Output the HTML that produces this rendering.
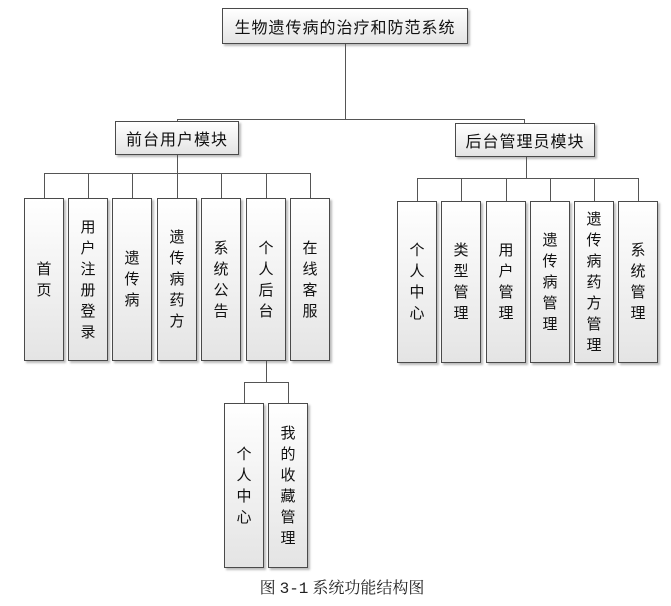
<!DOCTYPE html>
<html><head><meta charset="utf-8"><style>
body{margin:0;background:#fff;width:671px;height:606px;position:relative;overflow:hidden;font-family:"Liberation Sans","Noto Sans CJK SC",sans-serif;}
.b{position:absolute;box-sizing:border-box;border:1px solid #4a4a4a;background:linear-gradient(#ffffff,#e4e4e4);box-shadow:2px 2px 2px #bbb;color:#111;font-size:15px;display:flex;align-items:center;justify-content:center;text-align:center;}
.v{line-height:21px;width:40px;padding:0 12px;word-break:break-all;}
.l{position:absolute;background:#555;}
.h{height:1px}.w{width:1px}
</style></head><body>
<div class="b" style="left:222px;top:8px;width:246px;height:36px;font-size:16px;letter-spacing:1px">生物遗传病的治疗和防范系统</div>
<div class="l w" style="left:345px;top:44px;height:75px"></div>
<div class="l h" style="left:177px;top:119px;width:348px"></div>
<div class="l w" style="left:177px;top:119px;height:2px"></div>
<div class="l w" style="left:524px;top:119px;height:5px"></div>
<div class="b" style="left:115px;top:121px;width:124px;height:34px;font-size:16px;letter-spacing:1px">前台用户模块</div>
<div class="b" style="left:455px;top:123px;width:140px;height:34px;font-size:16px;letter-spacing:1px">后台管理员模块</div>
<div class="l w" style="left:177px;top:155px;height:18px"></div>
<div class="l h" style="left:44px;top:173px;width:267px"></div>
<div class="l w" style="left:44px;top:173px;height:25px"></div>
<div class="l w" style="left:88px;top:173px;height:25px"></div>
<div class="l w" style="left:132px;top:173px;height:25px"></div>
<div class="l w" style="left:177px;top:173px;height:25px"></div>
<div class="l w" style="left:221px;top:173px;height:25px"></div>
<div class="l w" style="left:266px;top:173px;height:25px"></div>
<div class="l w" style="left:310px;top:173px;height:25px"></div>
<div class="b v" style="left:24px;top:198px;height:163px">首页</div>
<div class="b v" style="left:68px;top:198px;height:163px">用户注册登录</div>
<div class="b v" style="left:112px;top:198px;height:163px">遗传病</div>
<div class="b v" style="left:157px;top:198px;height:163px">遗传病药方</div>
<div class="b v" style="left:201px;top:198px;height:163px">系统公告</div>
<div class="b v" style="left:246px;top:198px;height:163px">个人后台</div>
<div class="b v" style="left:290px;top:198px;height:163px">在线客服</div>
<div class="l w" style="left:526px;top:157px;height:21px"></div>
<div class="l h" style="left:417px;top:178px;width:221px"></div>
<div class="l w" style="left:417px;top:178px;height:23px"></div>
<div class="l w" style="left:461px;top:178px;height:23px"></div>
<div class="l w" style="left:506px;top:178px;height:23px"></div>
<div class="l w" style="left:550px;top:178px;height:23px"></div>
<div class="l w" style="left:594px;top:178px;height:23px"></div>
<div class="l w" style="left:638px;top:178px;height:23px"></div>
<div class="b v" style="left:397px;top:201px;height:162px">个人中心</div>
<div class="b v" style="left:441px;top:201px;height:162px">类型管理</div>
<div class="b v" style="left:486px;top:201px;height:162px">用户管理</div>
<div class="b v" style="left:530px;top:201px;height:162px">遗传病管理</div>
<div class="b v" style="left:574px;top:201px;height:162px">遗传病药方管理</div>
<div class="b v" style="left:618px;top:201px;height:162px">系统管理</div>
<div class="l w" style="left:266px;top:361px;height:21px"></div>
<div class="l h" style="left:244px;top:382px;width:45px"></div>
<div class="l w" style="left:244px;top:382px;height:21px"></div>
<div class="l w" style="left:288px;top:382px;height:21px"></div>
<div class="b v" style="left:224px;top:403px;height:165px">个人中心</div>
<div class="b v" style="left:268px;top:403px;height:165px">我的收藏管理</div>
<div style="position:absolute;left:222px;top:575px;width:240px;text-align:center;font-family:'Liberation Serif','Noto Serif CJK SC',serif;font-size:16px;color:#222;white-space:nowrap">图 <span style="font-family:'Liberation Mono',monospace">3-1</span> 系统功能结构图</div>
</body></html>
